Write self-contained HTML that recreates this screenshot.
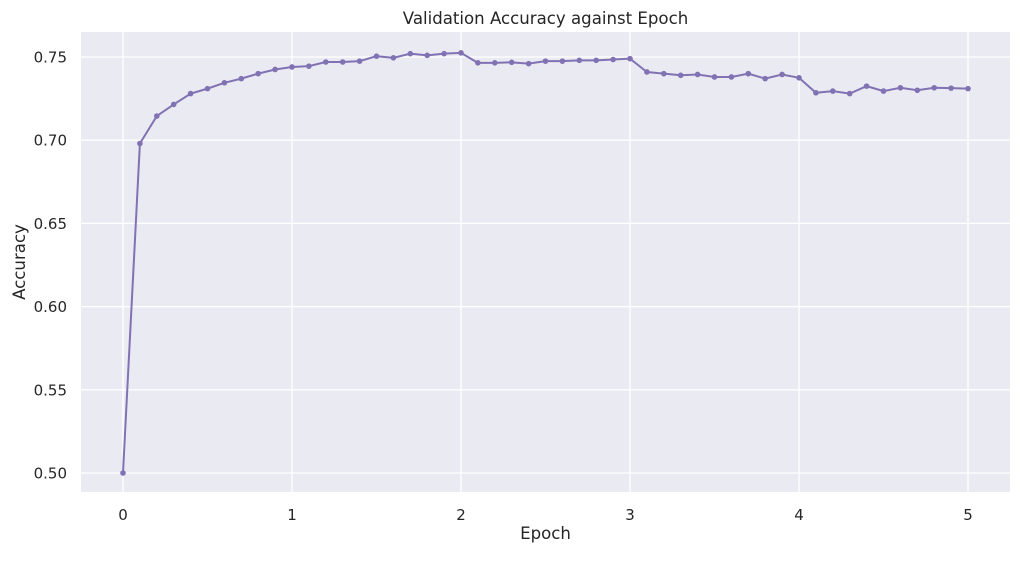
<!DOCTYPE html>
<html><head><meta charset="utf-8"><style>
body{margin:0;background:#fff;width:1020px;height:556px;overflow:hidden}
text{font-family:"DejaVu Sans","Liberation Sans",sans-serif;fill:#262626}
</style></head><body>
<svg id="chart" width="1020" height="556" xmlns="http://www.w3.org/2000/svg"></svg>
<script>
const epochs=[0,0.1,0.2,0.3,0.4,0.5,0.6,0.7,0.8,0.9,1.0,1.1,1.2,1.3,1.4,1.5,1.6,1.7,1.8,1.9,2.0,2.1,2.2,2.3,2.4,2.5,2.6,2.7,2.8,2.9,3.0,3.1,3.2,3.3,3.4,3.5,3.6,3.7,3.8,3.9,4.0,4.1,4.2,4.3,4.4,4.5,4.6,4.7,4.8,4.9,5.0];
const accuracy=[0.500,0.698,0.7145,0.7215,0.728,0.731,0.7345,0.737,0.740,0.7425,0.744,0.7445,0.747,0.747,0.7475,0.7505,0.7495,0.752,0.751,0.752,0.7525,0.7465,0.7465,0.7468,0.746,0.7475,0.7475,0.748,0.748,0.7485,0.749,0.741,0.740,0.739,0.7395,0.738,0.738,0.740,0.737,0.7395,0.7375,0.7285,0.7295,0.728,0.7325,0.7295,0.7315,0.730,0.7315,0.7313,0.731];
const xTicks=[0,1,2,3,4,5];
const yTicks=[0.50,0.55,0.60,0.65,0.70,0.75];
const L=81,R=1010,T=32,B=492;
const x=v=>123+v*169;
const y=v=>473-(v-0.5)*1664;
const svg=document.getElementById('chart');
const NS='http://www.w3.org/2000/svg';
function mk(tag,attrs,parent){const e=document.createElementNS(NS,tag);for(const k in attrs)e.setAttribute(k,attrs[k]);(parent||svg).appendChild(e);return e;}
const bg=mk('rect',{x:L,y:T,width:R-L,height:B-T,fill:'#eaeaf2'});


xTicks.forEach(t=>{
 const g=mk('line',{x1:x(t),x2:x(t),y1:T,y2:B,stroke:'#fff','stroke-width':1.3});
 
 
 const l=mk('text',{x:x(t),y:B+28,'text-anchor':'middle','font-size':15});
 l.textContent=t;
 
 
});
yTicks.forEach(t=>{
 const g=mk('line',{x1:L,x2:R,y1:y(t),y2:y(t),stroke:'#fff','stroke-width':1.3});
 
 
 const l=mk('text',{x:L-14,y:y(t)+5.5,'text-anchor':'end','font-size':15});
 l.textContent=t.toFixed(2);
 
 
});
const line=mk('polyline',{points:epochs.map((e,i)=>x(e)+','+y(accuracy[i])).join(' '),fill:'none',stroke:'#8172b3','stroke-width':2});


epochs.forEach((e,i)=>{
 const c=mk('circle',{cx:x(e),cy:y(accuracy[i]),r:2.8,fill:'#8172b3'});
 
 
});
const title=mk('text',{x:(L+R)/2,y:24,'text-anchor':'middle','font-size':16.6});
title.textContent='Validation Accuracy against Epoch';


const xt=mk('text',{x:(L+R)/2,y:539,'text-anchor':'middle','font-size':16.6});
xt.textContent='Epoch';


const yt=mk('text',{x:25,y:(T+B)/2,'text-anchor':'middle','font-size':16.6,transform:'rotate(-90 25 '+((T+B)/2)+')'});
yt.textContent='Accuracy';


</script>
</body></html>
